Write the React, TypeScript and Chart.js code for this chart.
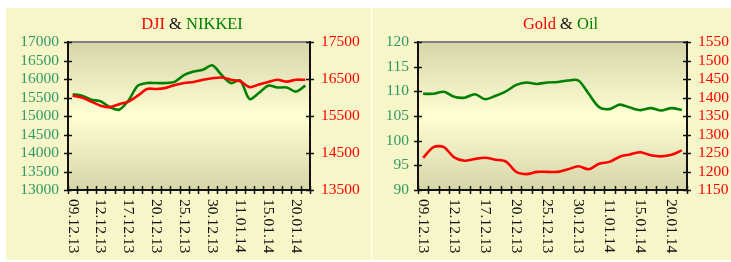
import React, { useEffect, useRef } from "react";
import { Chart, registerables } from "chart.js";
Chart.register(...registerables);

// ---------- data ----------
const dates = [
  "09.12.13", "10.12.13", "11.12.13", "12.12.13", "13.12.13", "16.12.13", "17.12.13",
  "18.12.13", "19.12.13", "20.12.13", "23.12.13", "24.12.13", "25.12.13", "26.12.13",
  "27.12.13", "30.12.13", "03.01.14", "09.01.14", "11.01.14", "13.01.14", "14.01.14",
  "15.01.14", "16.01.14", "17.01.14", "20.01.14", "21.01.14",
];
const labelEvery = 3;

const dji = [
  16050, 16000, 15890, 15780, 15740, 15820, 15890, 16050, 16230, 16230, 16260, 16340, 16390,
  16420, 16480, 16520, 16540, 16480, 16440, 16280, 16350, 16420, 16480, 16430, 16480, 16480,
];
const nikkei = [
  15590, 15550, 15440, 15400, 15240, 15170, 15420, 15820, 15890, 15890, 15890, 15930, 16110,
  16200, 16250, 16370, 16110, 15890, 15960, 15460, 15620, 15820, 15770, 15770, 15660, 15820,
];
const gold = [
  1237, 1266, 1266, 1238, 1229, 1234, 1237, 1232, 1227, 1199, 1193, 1199, 1199, 1199, 1206,
  1214, 1206, 1221, 1226, 1240, 1246, 1252, 1244, 1241, 1245, 1257,
];
const oil = [
  109.5, 109.5, 109.9, 108.9, 108.7, 109.4, 108.4, 109.1, 110.0, 111.3, 111.8, 111.5, 111.8,
  111.9, 112.2, 112.2, 109.5, 106.8, 106.4, 107.3, 106.7, 106.2, 106.6, 106.1, 106.6, 106.2,
];

// axis ranges [min, max, step]
const nikkeiAxis = [13000, 17000, 500];
const djiAxis = [13500, 17500, 1000];
const oilAxis = [90, 120, 5];
const goldAxis = [1150, 1550, 50];

// ---------- styles ----------
const RED = "#ff0000";
const GREEN = "#008000";
const AXIS_GREEN = "#339966";
const FONT = "'Liberation Serif', 'Times New Roman', serif";
const PANEL_BG = "#f6f6c8";

const decoPlugin = {
  id: "deco",
  beforeDraw(chart: any) {
    const { ctx, chartArea: a } = chart;
    ctx.save();
    const g = ctx.createLinearGradient(0, a.top, 0, a.bottom);
    g.addColorStop(0, "#d5d5a8");
    g.addColorStop(0.5, "#fffed3");
    g.addColorStop(1, "#d5d5a8");
    ctx.fillStyle = g;
    ctx.fillRect(a.left, a.top, a.right - a.left, a.bottom - a.top);
    ctx.restore();
  },
  afterDraw(chart: any, _args: any, opts: any) {
    const { ctx, chartArea: a } = chart;
    ctx.save();
    // frame
    ctx.lineWidth = 2;
    ctx.strokeStyle = "#808080";
    ctx.beginPath();
    ctx.moveTo(a.left, a.top);
    ctx.lineTo(a.right, a.top);
    ctx.stroke();
    ctx.strokeStyle = "#111";
    ctx.beginPath();
    ctx.moveTo(a.left, a.top - 1);
    ctx.lineTo(a.left, a.bottom);
    ctx.lineTo(a.right, a.bottom);
    ctx.moveTo(a.right, a.top - 1);
    ctx.lineTo(a.right, a.bottom);
    ctx.stroke();

    // y ticks crossing
    ctx.lineWidth = 1.5;
    const yl = chart.scales.y;
    yl.ticks.forEach((t: any) => {
      const y = Math.round(yl.getPixelForValue(t.value)) + 0.5;
      ctx.beginPath();
      ctx.moveTo(a.left - 4, y);
      ctx.lineTo(a.left + 4, y);
      ctx.stroke();
    });
    const yr = chart.scales.y1;
    yr.ticks.forEach((t: any) => {
      const y = Math.round(yr.getPixelForValue(t.value)) + 0.5;
      ctx.beginPath();
      ctx.moveTo(a.right - 4, y);
      ctx.lineTo(a.right + 4, y);
      ctx.stroke();
    });

    // x ticks at category boundaries
    const xs = chart.scales.x;
    const labels = chart.data.labels;
    const n = labels.length;
    const half = (xs.getPixelForValue(1) - xs.getPixelForValue(0)) / 2;
    for (let i = 0; i <= n; i++) {
      const x = Math.round(xs.getPixelForValue(i) - half) + 0.5;
      ctx.beginPath();
      ctx.moveTo(x, a.bottom - 4);
      ctx.lineTo(x, a.bottom + 4);
      ctx.stroke();
    }

    // rotated x labels (reading downward)
    ctx.fillStyle = "#111";
    ctx.font = `15.5px ${FONT}`;
    ctx.textAlign = "left";
    ctx.textBaseline = "middle";
    labels.forEach((lab: string, i: number) => {
      if (i % labelEvery !== 0) return;
      ctx.save();
      ctx.translate(xs.getPixelForValue(i), a.bottom + 9);
      ctx.rotate(Math.PI / 2);
      ctx.fillText(lab, 0, 0);
      ctx.restore();
    });

    // multi-coloured title
    const parts = opts.title || [];
    ctx.font = `16.5px ${FONT}`;
    ctx.textBaseline = "alphabetic";
    const total = parts.reduce((s: number, p: any) => s + ctx.measureText(p.text).width, 0);
    let x = (a.left + a.right) / 2 + (opts.shift || 0) - total / 2;
    parts.forEach((p: any) => {
      ctx.fillStyle = p.color;
      ctx.fillText(p.text, x, a.top - 13);
      x += ctx.measureText(p.text).width;
    });
    ctx.restore();
  },
};

type PanelProps = {
  width: number;
  height: number;
  leftData: number[];
  rightData: number[];
  leftAxis: number[];
  rightAxis: number[];
  leftW: number;
  rightW: number;
  title: { text: string; color: string }[];
  shift: number;
  rightOnTop: boolean;
};

function Panel(p: PanelProps) {
  const ref = useRef<HTMLCanvasElement>(null);
  useEffect(() => {
    if (!ref.current) return;
    const redDs = {
      data: p.rightData,
      yAxisID: "y1",
      borderColor: RED,
      backgroundColor: RED,
      borderWidth: 2.6,
      pointRadius: 0,
      tension: 0.3,
      fill: false,
    };
    const greenDs = {
      data: p.leftData,
      yAxisID: "y",
      borderColor: GREEN,
      backgroundColor: GREEN,
      borderWidth: 2.6,
      pointRadius: 0,
      tension: 0.3,
      fill: false,
    };
    const fmt = (v: any) => String(v);
    const chart = new Chart(ref.current, {
      type: "line",
      data: {
        labels: dates,
        datasets: p.rightOnTop ? [redDs, greenDs] : [greenDs, redDs],
      },
      options: {
        responsive: false,
        animation: false,
        devicePixelRatio: 1,
        layout: { padding: { top: 34, left: 0, right: 0, bottom: 0 } },
        plugins: {
          legend: { display: false },
          tooltip: { enabled: false },
          title: { display: false },
          deco: { title: p.title, shift: p.shift },
        } as any,
        scales: {
          x: {
            type: "category",
            offset: true,
            grid: { display: false, offset: true },
            border: { display: false },
            ticks: { display: false },
            afterFit: (s: any) => {
              s.height = 70;
            },
          },
          y: {
            position: "left",
            min: p.leftAxis[0],
            max: p.leftAxis[1],
            grid: { display: false, drawTicks: false },
            border: { display: false },
            ticks: {
              stepSize: p.leftAxis[2],
              autoSkip: false,
              callback: fmt,
              color: AXIS_GREEN,
              padding: 9,
              font: { family: FONT, size: 15.5 },
            },
            afterFit: (s: any) => {
              s.width = p.leftW;
            },
          },
          y1: {
            position: "right",
            min: p.rightAxis[0],
            max: p.rightAxis[1],
            grid: { display: false, drawTicks: false },
            border: { display: false },
            ticks: {
              stepSize: p.rightAxis[2],
              autoSkip: false,
              callback: fmt,
              color: RED,
              padding: 11,
              font: { family: FONT, size: 15.5 },
            },
            afterFit: (s: any) => {
              s.width = p.rightW;
            },
          },
        },
      },
      plugins: [decoPlugin],
    });
    return () => chart.destroy();
  }, []);
  return (
    <canvas
      ref={ref}
      width={p.width}
      height={p.height}
      style={{ display: "block", width: p.width, height: p.height }}
    />
  );
}

export default function App() {
  return (
    <div
      style={{
        position: "absolute",
        left: 0,
        top: 0,
        width: 731,
        height: 262,
        background: "#ffffff",
        overflow: "hidden",
      }}
    >
      <div style={{ position: "absolute", left: 6, top: 8, width: 365, height: 252, background: PANEL_BG }}>
        <Panel
          width={365}
          height={252}
          leftData={nikkei}
          rightData={dji}
          leftAxis={nikkeiAxis}
          rightAxis={djiAxis}
          leftW={62}
          rightW={61}
          title={[
            { text: "DJI", color: RED },
            { text: " & ", color: "#111" },
            { text: "NIKKEI", color: GREEN },
          ]}
          shift={3}
          rightOnTop={true}
        />
      </div>
      <div style={{ position: "absolute", left: 372, top: 8, width: 359, height: 252, background: PANEL_BG }}>
        <Panel
          width={359}
          height={252}
          leftData={oil}
          rightData={gold}
          leftAxis={oilAxis}
          rightAxis={goldAxis}
          leftW={46}
          rightW={44}
          title={[
            { text: "Gold", color: RED },
            { text: " & ", color: "#111" },
            { text: "Oil", color: GREEN },
          ]}
          shift={8}
          rightOnTop={true}
        />
      </div>
    </div>
  );
}
